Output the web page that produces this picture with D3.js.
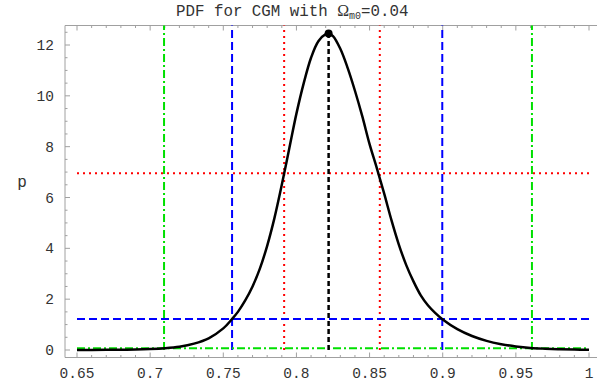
<!DOCTYPE html>
<html><head><meta charset="utf-8">
<script src="https://cdn.jsdelivr.net/npm/d3@7"></script>
<style>body{margin:0;background:#fff}svg{display:block}</style>
</head><body>
<svg id="c" width="598" height="386"></svg>
<script>
const xVals = [0.65,0.66,0.67,0.68,0.69,0.70,0.71,0.72,0.73,0.74,0.75,0.756,0.76,0.765,0.77,0.775,0.78,0.785,0.79,0.795,0.80,0.805,0.81,0.815,0.82,0.822,0.825,0.83,0.835,0.84,0.845,0.85,0.855,0.86,0.865,0.87,0.875,0.88,0.885,0.89,0.895,0.90,0.91,0.92,0.93,0.94,0.95,0.96,0.97,0.98,0.99,1.0];
const pVals = [0.002,0.004,0.007,0.012,0.02,0.038,0.07,0.13,0.25,0.46,0.85,1.22,1.5,1.95,2.5,3.2,4.1,5.2,6.5,7.9,9.3,10.5,11.5,12.15,12.43,12.45,12.35,11.85,11.1,10.2,9.2,8.1,7.15,6.15,5.1,4.15,3.35,2.7,2.15,1.75,1.45,1.2,0.82,0.55,0.36,0.23,0.14,0.08,0.05,0.03,0.018,0.01];
const peak = {x:0.822, p:12.45};
const levels = [
  {p:6.95, lo:0.7916, hi:0.857, color:"#ff0000", dash:"2,4"},
  {p:1.22, lo:0.756, hi:0.8997, color:"#0000ff", dash:"8,4"},
  {p:0.07, lo:0.7095, hi:0.961, color:"#00e000", dash:"8,3,2,3"}
];
const xTicks = [0.65,0.7,0.75,0.8,0.85,0.9,0.95,1];
const xTickLabels = ["0.65","0.7","0.75","0.8","0.85","0.9","0.95","1"];
const yTicks = [0,2,4,6,8,10,12];

const svg = d3.select("#c");
const x = d3.scaleLinear().domain([0.65,1]).range([77,589]);
const y = d3.scaleLinear().domain([0,12]).range([350,45]);
const L=65, R=597, T=25.5, B=357.5;
const frameCol = "#a0a0a0";
const mono = "'Liberation Mono', 'Courier New', monospace";
const txtCol = "#333";

// frame lines
svg.append("line").attr("x1",L).attr("x2",L).attr("y1",T).attr("y2",B).attr("stroke",frameCol).attr("stroke-width",1);
svg.append("line").attr("x1",L).attr("x2",R).attr("y1",T).attr("y2",T).attr("stroke",frameCol).attr("stroke-width",1);
svg.append("line").attr("x1",L).attr("x2",R).attr("y1",B).attr("y2",B).attr("stroke",frameCol).attr("stroke-width",1);

// ticks
const xMinor = d3.range(65,101).map(v=>v/100);
xMinor.forEach(v=>{
  const major = Math.abs(v*20-Math.round(v*20))<1e-6;
  const len = major?5:2.5;
  svg.append("line").attr("x1",x(v)).attr("x2",x(v)).attr("y1",B).attr("y2",B-len).attr("stroke",frameCol);
  svg.append("line").attr("x1",x(v)).attr("x2",x(v)).attr("y1",T).attr("y2",T+len).attr("stroke",frameCol);
});
const yMinor = d3.range(0,26).map(v=>v/2);
yMinor.forEach(v=>{
  const major = v%2===0;
  const len = major?5:2.5;
  svg.append("line").attr("x1",L).attr("x2",L+len).attr("y1",y(v)).attr("y2",y(v)).attr("stroke",frameCol);
});

// tick labels
svg.append("g").selectAll("text").data(xTicks).join("text")
  .attr("x",d=>x(d)).attr("y",378).attr("text-anchor","middle")
  .attr("font-family",mono).attr("font-size",14.5).attr("fill",txtCol)
  .text((d,i)=>xTickLabels[i]);
svg.append("g").selectAll("text").data(yTicks).join("text")
  .attr("x",54).attr("y",d=>y(d)+5).attr("text-anchor","end")
  .attr("font-family",mono).attr("font-size",14.5).attr("fill",txtCol)
  .text(d=>d);

// axis label
svg.append("text").attr("x",22).attr("y",187).attr("text-anchor","middle")
  .attr("font-family",mono).attr("font-size",16).attr("fill",txtCol).text("p");

// title
const t = svg.append("text").attr("x",176).attr("y",16).attr("font-family",mono).attr("font-size",15.8).attr("fill",txtCol).attr("xml:space","preserve");
t.append("tspan").attr("fill",txtCol).text("PDF for CGM with ");
t.append("tspan").attr("fill",txtCol).attr("font-family","'Liberation Serif', serif").attr("font-size",16).text("Ω");
t.append("tspan").attr("fill",txtCol).attr("font-size",10).attr("dy",3).text("m0");
t.append("tspan").attr("fill",txtCol).attr("dy",-3).text("=0.04");

// level lines
levels.forEach(l=>{
  svg.append("line").attr("x1",x(0.65)).attr("x2",x(1)).attr("y1",y(l.p)).attr("y2",y(l.p))
    .attr("stroke",l.color).attr("stroke-width",2).attr("stroke-dasharray",l.dash);
  [l.lo,l.hi].forEach(v=>{
    svg.append("line").attr("x1",x(v)).attr("x2",x(v)).attr("y1",y(0)).attr("y2",T)
      .attr("stroke",l.color).attr("stroke-width",2).attr("stroke-dasharray",l.dash);
  });
});

// curve
const data = xVals.map((v,i)=>({x:v,p:pVals[i]}));
svg.append("path").datum(data)
  .attr("d",d3.line().x(d=>x(d.x)).y(d=>y(d.p)).curve(d3.curveCatmullRom.alpha(0.5)))
  .attr("fill","none").attr("stroke","#000").attr("stroke-width",2.5);

// peak marker
svg.append("line").attr("x1",x(peak.x)).attr("x2",x(peak.x)).attr("y1",y(0)).attr("y2",y(peak.p))
  .attr("stroke","#000").attr("stroke-width",2.5).attr("stroke-dasharray","5,3");
svg.append("circle").attr("cx",x(peak.x)).attr("cy",y(peak.p)).attr("r",4).attr("fill","#000");
</script>
</body></html>
